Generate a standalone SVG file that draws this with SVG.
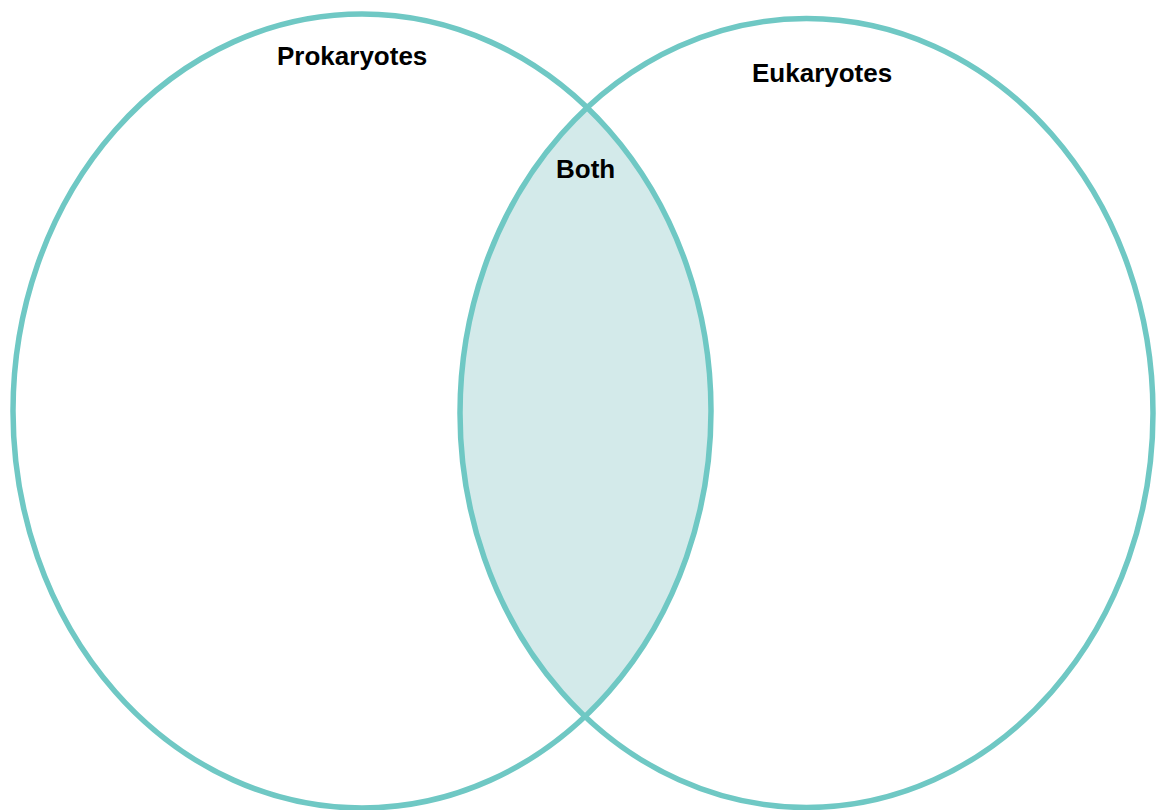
<svg xmlns="http://www.w3.org/2000/svg" width="1156" height="810" viewBox="0 0 1156 810">
  <style>
    .ring { fill: none; stroke: #6fc8c4; stroke-width: 5.5; }
    .label { font-family: "Liberation Sans", Arial, sans-serif; font-weight: bold; font-size: 26px; fill: #000; }
  </style>
  <defs>
    <clipPath id="clipLeft">
      <ellipse cx="362" cy="411" rx="349" ry="397"/>
    </clipPath>
  </defs>
  <rect width="1156" height="810" fill="#ffffff"/>
  <g id="overlap">
    <ellipse cx="806.5" cy="413" rx="346.5" ry="394.5" fill="#d3eaea" clip-path="url(#clipLeft)"/>
  </g>
  <g id="prokaryotes">
    <ellipse class="ring" cx="362" cy="411" rx="349" ry="397"/>
    <text class="label" x="277" y="65">Prokaryotes</text>
  </g>
  <g id="eukaryotes">
    <ellipse class="ring" cx="806.5" cy="413" rx="346.5" ry="394.5"/>
    <text class="label" x="752" y="82">Eukaryotes</text>
  </g>
  <g id="both">
    <text class="label" x="556" y="178">Both</text>
  </g>
  <g id="connectors"/>
</svg>
